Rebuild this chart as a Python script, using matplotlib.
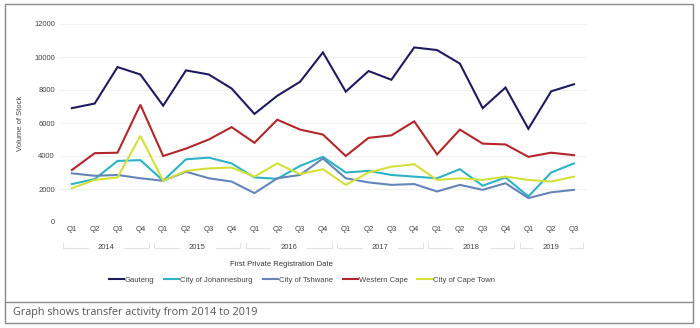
import matplotlib.pyplot as plt
import numpy as np
from matplotlib.lines import Line2D
from matplotlib.patches import Rectangle
import matplotlib.transforms as mtransforms

# quarters 2014 Q1 .. 2019 Q3
years = ['2014', '2015', '2016', '2017', '2018', '2019']
quarters = ['Q1', 'Q2', 'Q3', 'Q4'] * 5 + ['Q1', 'Q2', 'Q3']

gauteng = [6900, 7180, 9390, 8940, 7050, 9190, 8940, 8090, 6550, 7650, 8500, 10280,
           7900, 9150, 8620, 10580, 10420, 9600, 6900, 8150, 5650, 7920, 8350]
johannesburg = [2300, 2600, 3700, 3750, 2500, 3800, 3900, 3550, 2700, 2620, 3400, 3950,
                3000, 3100, 2850, 2750, 2650, 3200, 2200, 2700, 1550, 3000, 3550]
tshwane = [2950, 2800, 2850, 2650, 2500, 3050, 2650, 2450, 1750, 2650, 2850, 3850,
           2650, 2400, 2250, 2300, 1850, 2250, 1950, 2350, 1450, 1800, 1950]
western_cape = [3150, 4170, 4200, 7110, 4000, 4450, 5000, 5750, 4800, 6200, 5600, 5300,
                4000, 5100, 5250, 6100, 4100, 5600, 4750, 4700, 3950, 4200, 4050]
cape_town = [2050, 2550, 2700, 5220, 2500, 3100, 3250, 3300, 2750, 3550, 2900, 3200,
             2250, 3000, 3350, 3500, 2550, 2650, 2550, 2750, 2550, 2450, 2750]

series = [
    ('Gauteng', gauteng, '#1f1c5e'),
    ('City of Johannesburg', johannesburg, '#2db3c6'),
    ('City of Tshwane', tshwane, '#6485b8'),
    ('Western Cape', western_cape, '#b3262a'),
    ('City of Cape Town', cape_town, '#d3e03a'),
]

plt.rcParams['font.family'] = ['Liberation Sans', 'DejaVu Sans']

fig = plt.figure(figsize=(7.0, 3.28), dpi=100)
ax = fig.add_axes([60 / 700, 1 - 222 / 328, 527 / 700, 198 / 328])

x = np.arange(len(quarters))
for name, vals, col in series:
    ax.plot(x, vals, color=col, lw=1.5, label=name, solid_joinstyle='miter')

ax.set_xlim(-0.52, 22.57)
ax.set_ylim(0, 12000)
ax.set_yticks(np.arange(0, 12001, 2000))
ax.tick_params(axis='y', length=0, pad=3.6, labelsize=5.5, labelcolor='#444444')
ax.set_xticks(x, labels=quarters)
ax.tick_params(axis='x', length=0, pad=3, labelsize=5.5, labelcolor='#444444')
ax.grid(axis='y', color='#f0f0f0', lw=0.8)
ax.set_axisbelow(True)
for side in ['top', 'right', 'left', 'bottom']:
    ax.spines[side].set_visible(False)
ax.set_ylabel('Volume of Stock', fontsize=5.5, color='#444444', labelpad=7)

# year groups with light brackets
trans = mtransforms.blended_transform_factory(ax.transData, ax.transAxes)
for i, yr in enumerate(years):
    start = i * 4
    end = min(start + 3, len(quarters) - 1)
    x0, x1 = start - 0.38, end + 0.38
    mid = (start + end) / 2
    ax.text(mid, -0.13, yr, transform=trans, ha='center', va='center',
            fontsize=5.5, color='#444444')
    ax.plot([x0, x0, mid - 0.8], [-0.105, -0.13, -0.13], transform=trans,
            color='#e2e2e2', lw=0.8, clip_on=False)
    ax.plot([mid + 0.8, x1, x1], [-0.13, -0.13, -0.105], transform=trans,
            color='#e2e2e2', lw=0.8, clip_on=False)

fig.text(281 / 700, 1 - 265 / 328, 'First Private Registration Date', ha='center',
         va='center', fontsize=5.5, color='#333333')

fig.legend(loc='center', bbox_to_anchor=(302 / 700, 1 - 280 / 328), ncol=5,
           frameon=False, fontsize=5.5, handlelength=2.0, handletextpad=0.1,
           columnspacing=1.3, labelcolor='#444444')

# outer frame and caption box
fig.patches.append(Rectangle((5 / 700, 1 - 323 / 328), 688 / 700, 319 / 328,
                             transform=fig.transFigure, fill=False,
                             edgecolor='#8a8a8a', lw=1.0))
fig.lines.append(Line2D([5 / 700, 693 / 700], [1 - 302 / 328, 1 - 302 / 328],
                        transform=fig.transFigure, color='#8a8a8a', lw=1.0))
fig.text(13 / 700, 1 - 313 / 328, 'Graph shows transfer activity from 2014 to 2019',
         ha='left', va='center', fontsize=7.8, color='#555555',
         family=['Open Sans', 'DejaVu Sans'])

fig.savefig('out.png', dpi=100, facecolor='white')
